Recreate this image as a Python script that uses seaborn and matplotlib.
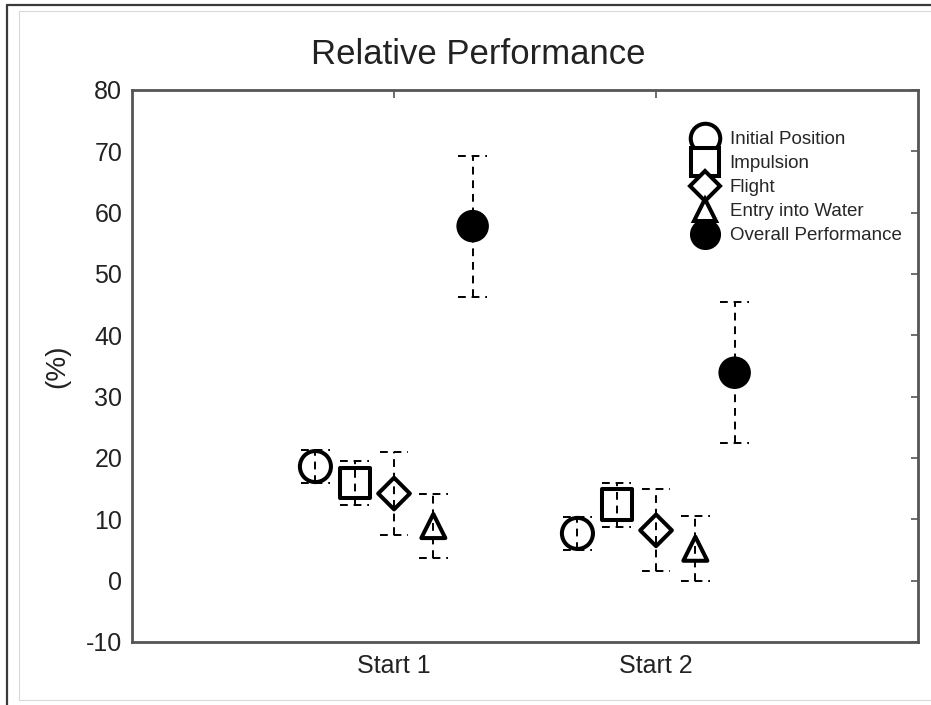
import matplotlib
matplotlib.use("Agg")
import numpy as np
import pandas as pd
import seaborn as sns
from matplotlib import pyplot as plt
from matplotlib.lines import Line2D

measures = ["Initial Position", "Impulsion", "Flight", "Entry into Water", "Overall Performance"]
starts = ["Start 1", "Start 2"]
start1_mean = [18.6, 15.9, 14.2, 8.9, 57.8]
start1_err = [2.7, 3.6, 6.7, 5.2, 11.5]
start2_mean = [7.7, 12.4, 8.2, 5.2, 33.9]
start2_err = [2.7, 3.6, 6.7, 5.3, 11.5]
y_ticks = [-10, 0, 10, 20, 30, 40, 50, 60, 70, 80]

markers = {
    "Initial Position": "o",
    "Impulsion": "s",
    "Flight": "D",
    "Entry into Water": "^",
    "Overall Performance": "o",
}
faces = {
    "Initial Position": "white",
    "Impulsion": "white",
    "Flight": "white",
    "Entry into Water": "white",
    "Overall Performance": "black",
}
sizes = {
    "Initial Position": 500,
    "Impulsion": 480,
    "Flight": 260,
    "Entry into Water": 300,
    "Overall Performance": 420,
}

# dodge the five measures around each start
offsets = np.linspace(-0.3, 0.3, len(measures))

rows = []
for i, (means, errs) in enumerate([(start1_mean, start1_err), (start2_mean, start2_err)]):
    for j, m in enumerate(measures):
        rows.append({"start": starts[i], "measure": m, "x": i + offsets[j],
                     "mean": means[j], "err": errs[j]})
df = pd.DataFrame(rows)

sns.set_style("white")
plt.rcParams["font.family"] = ["Liberation Sans", "DejaVu Sans"]
plt.rcParams["axes.unicode_minus"] = False

fig = plt.figure(figsize=(9.31, 7.05), dpi=100)
ax = fig.add_axes([0.1418, 0.0894, 0.8443, 0.7830])

# dashed error bars with dashed caps
cap = 0.055
dash = (0, (4, 3))
ax.vlines(df["x"], df["mean"] - df["err"], df["mean"] + df["err"],
          colors="black", linestyles=dash, linewidth=1.4, zorder=4)
ax.hlines(df["mean"] + df["err"], df["x"] - cap, df["x"] + cap,
          colors="black", linestyles=dash, linewidth=1.4, zorder=4)
ax.hlines(df["mean"] - df["err"], df["x"] - cap, df["x"] + cap,
          colors="black", linestyles=dash, linewidth=1.4, zorder=4)

sns.scatterplot(data=df, x="x", y="mean", hue="measure", style="measure", size="measure",
                palette=faces, markers=markers, sizes=sizes, edgecolor="black",
                linewidth=2.9, legend=False, zorder=3, ax=ax)

ax.set_xlim(-1.0, 2.0)
ax.set_ylim(-10, 80)
ax.set_xticks([0, 1])
ax.set_xticklabels(starts)
ax.set_yticks(y_ticks)
ax.set_xlabel("")
ax.tick_params(axis="both", direction="in", labelsize=18, colors="#555555", labelcolor="#222222")
ax.tick_params(axis="x", bottom=False, top=True, length=6, width=1.2, pad=9)
ax.tick_params(axis="y", left=False, right=True, length=5, width=1.2, pad=7)
for s in ax.spines.values():
    s.set_color("#555555")
    s.set_linewidth(2.0)

ax.set_title("Relative Performance", fontsize=25, x=0.44, pad=19, color="#222222")
ax.set_ylabel("(%)", fontsize=20, color="#222222")
ax.yaxis.set_label_coords(-0.079, 0.5)

handles = [
    Line2D([], [], marker=markers[m], markersize=np.sqrt(sizes[m]) * 0.95, markerfacecolor=faces[m],
           markeredgecolor="black", markeredgewidth=2.9, linestyle="none")
    for m in measures
]
ax.legend(handles, measures, loc="upper left", bbox_to_anchor=(694 / 931, 1 - 131 / 705),
          bbox_transform=fig.transFigure, frameon=False, fontsize=13.5, handlelength=1.2,
          handletextpad=0.7, labelspacing=0.37, borderpad=0, borderaxespad=0)

# window frame of the original screenshot
fig.add_artist(Line2D([7 / 931, 1], [1 - 5 / 705] * 2, transform=fig.transFigure, color="#3a3a3a", lw=1.6))
fig.add_artist(Line2D([7 / 931] * 2, [0, 1 - 5 / 705], transform=fig.transFigure, color="#3a3a3a", lw=1.6))
fig.add_artist(Line2D([19 / 931, 1], [1 - 11 / 705] * 2, transform=fig.transFigure, color="#d8d8d8", lw=0.8))
fig.add_artist(Line2D([19 / 931] * 2, [5 / 705, 1 - 11 / 705], transform=fig.transFigure, color="#d8d8d8", lw=0.8))
fig.add_artist(Line2D([19 / 931, 1], [5 / 705] * 2, transform=fig.transFigure, color="#d8d8d8", lw=0.8))

fig.savefig("out.png", dpi=100)
